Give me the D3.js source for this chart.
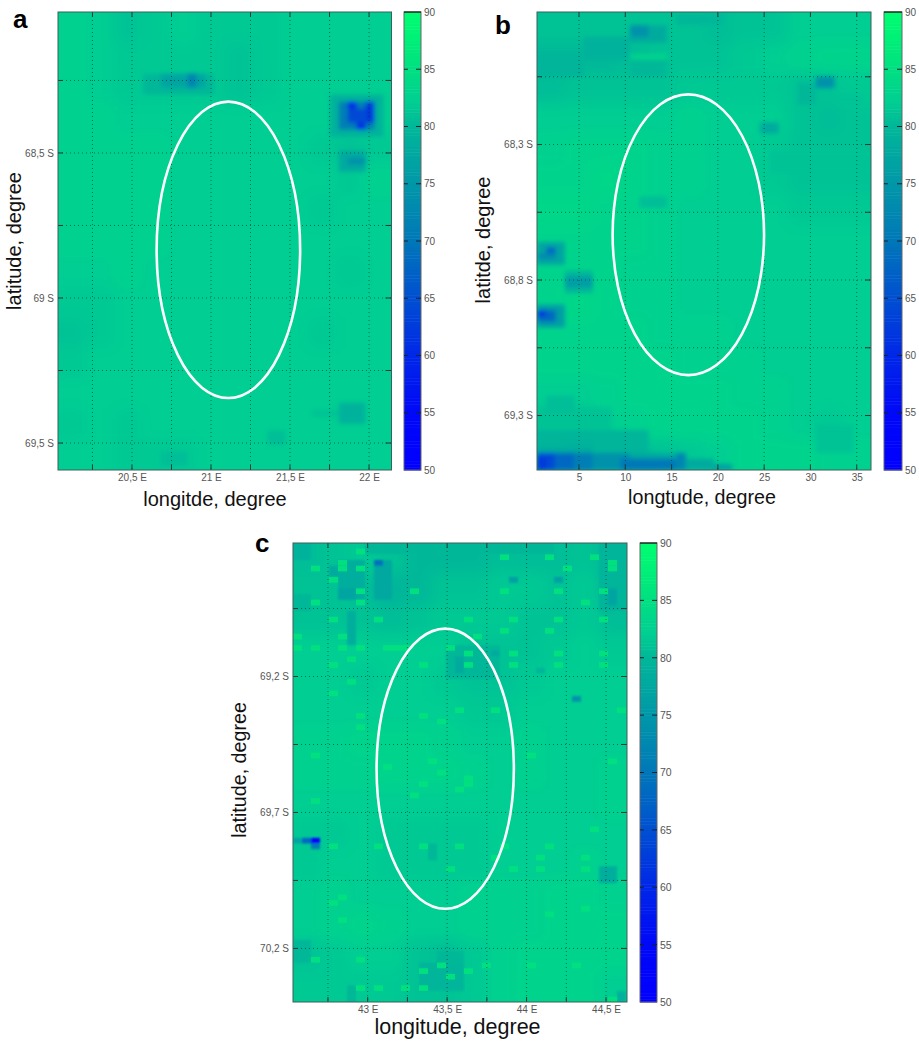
<!DOCTYPE html>
<html><head><meta charset="utf-8">
<style>html,body{margin:0;padding:0;background:#fff}svg{display:block}text{font-family:"Liberation Sans",Arial,sans-serif}</style>
<script src="https://cdn.jsdelivr.net/npm/d3@7"></script></head><body>
<svg id="c" width="919" height="1042"></svg>
<script>
// colour map
const legendValues=[50,55,60,65,70,75,80,82,85,90];
const legendColors=["#0000ff","#0008f8","#0028e8","#0050d0","#0078b8","#0098a8","#00b898","#00ce92","#00e080","#00ff70"];
const legendTicks=[50,55,60,65,70,75,80,85,90];

// panel a
const aLonTicks=[20.25,20.5,20.75,21,21.25,21.5,21.75,22];
const aLonLabels=[20.5,21,21.5,22];
const aLatTicks=[68.25,68.5,68.75,69,69.25,69.5];
const aLatLabels=[68.5,69,69.5];
const aEllipse=[21.11,68.834,0.454,0.511];
const aBase=[
[82.5,82,81,81.5,82,81.5,81.5,81.5,82,82,82,82],
[82.5,82,81.5,81.5,81.5,81.5,81,81.5,82,82,82,82],
[82.5,82,81.5,81.5,81.5,81.5,81,81.5,82,82,82,82],
[82.5,82.5,82,82,82,82,82,82,82,82,81.5,82],
[82.5,82.5,82.5,82.5,82,82,82,82,82,81.5,81,81.5],
[82.5,82.5,82.5,82.5,82,82,82,82,82,82,81.5,82.5],
[82.5,82.5,82.5,82.5,82,82,82,82,82,81.5,82,82],
[82.5,82.5,82.5,82.5,82,82,82,82,82,82,82,82],
[82,82,82.5,82,82,82,82,82,82,82,81.5,82],
[81.5,81.5,82,82,82,82,82,82,82,82,82,82],
[81,81.5,82,82,82,82,82,82,82,81.5,82,82],
[81.5,82,82,82,82,82,82,82,82,82,82,82],
[82,82,82,82,82,82,82,82,82,82,82,82],
[81.5,82,81.5,82,82,82,82,82,82,82,82,82],
[82,82,81.5,81.5,81.5,82,82,82,82,82,82,82]];
// [firstCol, endCol, firstRow, endRow, value]
const aCells=[
[31,37,12,18,79],[32,36,13,17,71],[33,34,13,14,60],[35,36,13,16,62],[33,35,14,16,64],[34,35,16,17,60],
[32,35,20,23,78],[33,35,21,22,74],
[10,18,9,12,80],[12,17,9,11,77],[15,16,9,11,72],
[32,35,56,59,79],[29,32,57,58,81],[24,26,60,62,80.5],[12,15,63,65,80.5]];

// panel b
const bLonTicks=[5,10,15,20,25,30,35];
const bLonLabels=[5,10,15,20,25,30,35];
const bLatTicks=[68.05,68.3,68.55,68.8,69.05,69.3];
const bLatLabels=[68.3,68.8,69.3];
const bEllipse=[16.81,68.633,8.18,0.518];
const bBase=[
[81,81,81,81,81,81,80.5,81,81,82,82,82],
[80,80,80,80.5,81,81,81,81.5,82,82.5,83,83],
[80.5,81,81,81,81,81.5,81.5,81.5,81.5,81,81,81.5],
[82,82,82,82,82,82.5,82,82,82,81,80.5,81],
[82.5,83,83,83,82.5,82.5,82,82,81.5,81,81,81],
[83,83,83.5,83,82.5,82.5,82,82,81.5,81,81,81],
[83.5,83.5,83,83,82.5,82,82,82,82,81.5,81.5,81.5],
[83,83,83,83,82.5,82,82,82,82,82,82,82],
[83,83,83,82.5,82.5,82,82,82,82,82,82,82],
[83,83.5,83,82.5,82.5,82,82,82,82,82,82,82],
[83,83,83,83,82.5,82.5,82.5,82,82,82,82,82],
[83,83,83,83,83,82.5,82.5,82.5,82,82,82,82],
[82,82,82.5,83,83,83,83,82.5,82.5,82,82,82],
[81,81,82,82.5,83,83,83,83,82.5,82,81.5,82],
[79,79,80,80.5,81,81.5,82,83,83,83,82.5,82.5]];
const bCells=[
[0,8,70,74,81],[0,12,74,78,79.5],
[0,6,77,78,78],[3,6,76,77,79],[9,15,78,79,77.5],
[0,2,78,81,64],[0,1,79,81,62],[2,4,78,81,68],[4,6,78,81,71],[6,10,78,81,74],[9,15,79,81,70],[15,16,78,81,72],[16,19,79,81,78],[19,21,80,81,76],
[0,3,52,56,76],[0,2,53,55,68],[0,1,53,54,62],
[3,6,46,50,80],[3,6,47,49,76],
[0,3,41,45,77],[0,2,43,44,73],[1,2,42,43,67],
[0,5,8,12,79.5],[5,10,5,9,79],[10,14,9,12,80],[10,14,8,9,83],[10,14,3,6,78],[10,12,3,5,74],[15,20,1,3,80],[32,34,8,9,83],
[28,30,13,17,80],[32,35,15,17,81],[30,32,12,14,74],[24,26,20,22,78],[11,14,33,35,80.5],[25,36,25,29,81],[30,34,73,78,81],[1,4,68,71,80.5]];

// panel c
const cLonTicks=[42.75,43,43.25,43.5,43.75,44,44.25,44.5];
const cLonLabels=[43,43.5,44,44.5];
const cLatTicks=[68.95,69.2,69.45,69.7,69.95,70.2];
const cLatLabels=[69.2,69.7,70.2];
const cEllipse=[43.488,69.539,0.432,0.515];
const cBase=[
[80.5,81,81.5,81,80,80,80,80.5,80.5,80.5,81,80],
[81,81,80.5,79.5,80,81,81,81.5,81.5,81,81.5,80],
[81,81,81,80.5,81,81.5,81.5,81.5,81,81,81.5,80.5],
[82,82,82,82,82,82,81,81,81,81.5,82,81.5],
[82,82,81.5,82,82,81.5,81,81,81.5,82,82,82],
[82,82,82,82,82,82,81.5,81.5,82,82,82,82],
[82.5,82.5,83,83,83,82.5,82,82,82.5,82,82,82],
[82.5,82.5,82.5,83,83,83,82.5,82,82.5,82,82,82.5],
[82,82,82,82,82,82,82,82,82,82,82,82.5],
[81.5,81.5,82,81.5,81.5,81.5,81.5,82,82,82,82,82],
[81.5,82,82,81.5,81.5,81.5,81.5,82,82,82,82.5,82],
[82,82.5,82,82,82,82,82.5,82.5,82.5,83,83,82.5],
[82,82.5,83,82.5,82,82,82.5,82.5,82.5,83,83,83],
[81,81.5,82,82,81,80.5,81.5,82.5,83,83,83,83],
[81.5,81.5,81.5,81.5,81,81,81.5,82.5,83,83,83,82]];
const cCells=[
[0,2,0,3,79],[0,2,9,12,80],[8,29,0,2,80],[34,37,0,12,79.5],[35,36,8,11,77],
[4,5,4,6,78],[5,8,3,10,78.5],[5,7,8,10,77],[9,11,3,10,77.5],[9,10,3,4,69],
[24,25,6,7,76],[29,30,6,7,76],[6,7,12,18,78.5],[17,23,18,24,80],[18,19,20,23,78],[22,23,19,20,78],
[27,28,22,23,79.5],[31,32,27,28,74],[34,36,57,60,78.5],[15,16,53,56,80],
[0,2,70,74,80],[16,19,72,74,80],[14,19,74,79,79.5],[6,7,78,81,80],[36,37,79,81,79],
[0,1,52,53,77],[1,2,52,53,68],[2,3,52,53,50],[2,3,53,54,71]];
const cBright=[[7,1],[5,3],[2,4],[5,4],[7,4],[4,6],[7,8],[7,10],[2,10],[0,16],[5,16],[0,18],[2,18],[5,18],[7,18],[4,13],[6,20],[9,13],[4,21],[6,24],[4,26],[7,30],[7,32],[2,37],[16,40],[15,38],[10,39],[14,21],[17,18],[19,13],[19,19],[19,21],[24,13],[24,19],[24,21],[23,2],[23,8],[23,15],[28,2],[29,8],[29,13],[29,19],[29,21],[28,15],[33,2],[30,4],[35,3],[35,4],[34,8],[32,10],[34,13],[34,19],[34,21],[36,29],[35,38],[22,29],[18,29],[16,31],[13,8],[20,16],[11,18],[10,18],[12,18],[14,30],[19,41],[26,37],[2,45],[14,42],[13,44],[18,43],[19,42],[4,53],[9,53],[14,53],[18,53],[23,53],[28,53],[27,55],[27,57],[32,55],[32,57],[33,50],[22,55],[17,57],[5,62],[5,66],[4,63],[2,73],[7,73],[14,75],[19,75],[16,74],[21,74],[26,74],[7,78],[12,78],[14,78],[9,78],[17,76],[35,80],[31,74],[28,65],[32,64],[24,57]];

const svg=d3.select("#c");
const color=d3.scaleLinear().domain(legendValues).range(legendColors);
const defs=svg.append("defs");
[["blurBase",7],["blurCell",1.9],["blurCellC",1.2],["blurBright",0.7]].forEach(([id,s])=>{
  defs.append("filter").attr("id",id).attr("filterUnits","userSpaceOnUse").attr("x",0).attr("y",0).attr("width",919).attr("height",1042)
    .append("feGaussianBlur").attr("stdDeviation",s);
});
const commaFmt=v=>String(v).replace(".",",");

function panel(o){
  const {id,box,lonDomain,latDomain}=o;
  const [x0,x1,y0,y1]=box;
  const x=d3.scaleLinear().domain(lonDomain).range([x0,x1]);
  const y=d3.scaleLinear().domain(latDomain).range([y0,y1]);
  defs.append("clipPath").attr("id","clip"+id).append("rect").attr("x",x0).attr("y",y0).attr("width",x1-x0).attr("height",y1-y0);
  const plot=svg.append("g").attr("clip-path","url(#clip"+id+")");
  // coarse background
  const nr=o.base.length,nc=o.base[0].length;
  const bx=d3.scaleLinear().domain([0,nc]).range([x0,x1]);
  const by=d3.scaleLinear().domain([0,nr]).range([y0,y1]);
  const gb=plot.append("g").attr("filter","url(#blurBase)");
  gb.append("rect").attr("x",x0-30).attr("y",y0-30).attr("width",x1-x0+60).attr("height",y1-y0+60).attr("fill",color(82));
  o.base.forEach((row,r)=>{
    gb.selectAll(null).data(row).enter().append("rect")
      .attr("x",(d,c)=>bx(c)-(c==0?30:0)).attr("y",by(r)-(r==0?30:0))
      .attr("width",(d,c)=>bx(1)-bx(0)+(c==0||c==nc-1?30:0)+0.5)
      .attr("height",by(1)-by(0)+(r==0||r==nr-1?30:0)+0.5)
      .attr("fill",d=>color(d));
  });
  // individual cells
  const cx=d3.scaleLinear().domain([0,1]).range([o.cellOrigin[0],o.cellOrigin[0]+o.cellSize[0]]);
  const cy=d3.scaleLinear().domain([0,1]).range([o.cellOrigin[1],o.cellOrigin[1]+o.cellSize[1]]);
  plot.append("g").attr("filter","url(#"+o.cellBlur+")").selectAll("rect").data(o.cells).enter().append("rect")
    .attr("x",d=>cx(d[0])).attr("y",d=>cy(d[2]))
    .attr("width",d=>cx(d[1])-cx(d[0])).attr("height",d=>cy(d[3])-cy(d[2]))
    .attr("fill",d=>color(d[4]));
  if(o.bright) plot.append("g").attr("filter","url(#blurBright)").selectAll("rect").data(o.bright).enter().append("rect")
    .attr("x",d=>cx(d[0])).attr("y",d=>cy(d[1]))
    .attr("width",cx(1)-cx(0)).attr("height",cy(1)-cy(0))
    .attr("fill",color(85));
  // dotted grid
  const grid=plot.append("g").attr("stroke","#0a2a24").attr("stroke-width",1).attr("stroke-dasharray","1,3").attr("stroke-opacity",0.6);
  o.lonTicks.forEach(v=>grid.append("line").attr("x1",x(v)).attr("x2",x(v)).attr("y1",y0).attr("y2",y1));
  o.latTicks.forEach(v=>grid.append("line").attr("x1",x0).attr("x2",x1).attr("y1",y(v)).attr("y2",y(v)));
  // ellipse
  const [ex,ey,erx,ery]=o.ellipse;
  svg.append("ellipse").attr("cx",x(ex)).attr("cy",y(ey)).attr("rx",x(ex+erx)-x(ex)).attr("ry",y(ey+ery)-y(ey))
    .attr("fill","none").attr("stroke","#fff").attr("stroke-width",2.6);
  // axes
  const stub=svg.append("g").attr("stroke","#1c3a36").attr("stroke-width",1);
  o.lonTicks.forEach(v=>{stub.append("line").attr("x1",x(v)).attr("x2",x(v)).attr("y1",y0).attr("y2",y0+5);
    stub.append("line").attr("x1",x(v)).attr("x2",x(v)).attr("y1",y1-5).attr("y2",y1);});
  o.latTicks.forEach(v=>{stub.append("line").attr("x1",x0).attr("x2",x0+5).attr("y1",y(v)).attr("y2",y(v));
    stub.append("line").attr("x1",x1-6).attr("x2",x1).attr("y1",y(v)).attr("y2",y(v));});
  svg.append("rect").attr("x",x0).attr("y",y0).attr("width",x1-x0).attr("height",y1-y0).attr("fill","none").attr("stroke","#3f5f5a").attr("stroke-width",1);
  const xAxis=svg.append("g").attr("transform",`translate(0,${y1})`)
    .call(d3.axisBottom(x).tickValues(o.lonLabels).tickSize(0).tickPadding(4).tickFormat(v=>commaFmt(v)+o.lonSuffix));
  xAxis.select(".domain").remove();
  xAxis.selectAll("text").attr("font-size",10).attr("fill","#555").attr("font-family",'"Liberation Sans",Arial,sans-serif');
  const yAxis=svg.append("g").attr("transform",`translate(${x0},0)`)
    .call(d3.axisLeft(y).tickValues(o.latLabels).tickSize(0).tickPadding(4).tickFormat(v=>commaFmt(v)+" S"));
  yAxis.select(".domain").remove();
  yAxis.selectAll("text").attr("font-size",10).attr("fill","#555").attr("font-family",'"Liberation Sans",Arial,sans-serif');
  // titles
  svg.append("text").attr("x",o.xTitle[1]).attr("y",o.xTitle[2]).attr("text-anchor","middle").attr("font-size",o.xTitle[3]).attr("fill","#111").text(o.xTitle[0]);
  svg.append("text").attr("transform",`translate(${o.yTitle[1]},${o.yTitle[2]}) rotate(-90)`).attr("text-anchor","middle").attr("font-size",o.yTitle[3]).attr("fill","#111").text(o.yTitle[0]);
  svg.append("text").attr("x",o.letter[1]).attr("y",o.letter[2]).attr("font-size",26).attr("font-weight","bold").attr("fill","#000").text(o.letter[0]);
  // colour bar
  const [bx0,bx1]=o.bar;
  const ly=d3.scaleLinear().domain([50,90]).range([y1,y0]);
  const steps=d3.range(50,90,0.25);
  svg.append("g").selectAll("rect").data(steps).enter().append("rect")
    .attr("x",bx0).attr("width",bx1-bx0).attr("y",d=>ly(d+0.25)).attr("height",d=>ly(d)-ly(d+0.25)+0.5).attr("fill",d=>color(d));
  svg.append("rect").attr("x",bx0).attr("y",y0).attr("width",bx1-bx0).attr("height",y1-y0).attr("fill","none").attr("stroke","#666").attr("stroke-width",1);
  svg.append("line").attr("x1",bx0).attr("x2",bx1).attr("y1",y0).attr("y2",y0).attr("stroke","#000");
  const lt=svg.append("g").attr("stroke","#123").attr("stroke-width",1);
  legendTicks.filter(v=>v>50&&v<90).forEach(v=>{
    lt.append("line").attr("x1",bx0).attr("x2",bx0+4).attr("y1",ly(v)).attr("y2",ly(v));
    lt.append("line").attr("x1",bx1-5).attr("x2",bx1).attr("y1",ly(v)).attr("y2",ly(v));
  });
  const la=svg.append("g").attr("transform",`translate(${bx1},0)`)
    .call(d3.axisRight(ly).tickValues(legendTicks).tickSize(0).tickPadding(3));
  la.select(".domain").remove();
  la.selectAll("text").attr("font-size",o.barFont).attr("fill","#555").attr("font-family",'"Liberation Sans",Arial,sans-serif');
}

panel({id:"a",box:[58,391.5,12,470],lonDomain:[20.032,22.142],latDomain:[68.014,69.593],
  base:aBase,cells:aCells,cellOrigin:[54,10.7],cellSize:[8.9,7],cellBlur:"blurCell",
  lonTicks:aLonTicks,latTicks:aLatTicks,lonLabels:aLonLabels,latLabels:aLatLabels,lonSuffix:" E",
  ellipse:aEllipse,bar:[404,421],barFont:10,
  xTitle:["longitde, degree",215,506,20],yTitle:["latitude, degree",20.5,241,20],letter:["a",13,28]});
panel({id:"b",box:[537,871,12,470],lonDomain:[0.463,36.54],latDomain:[67.811,69.501],
  base:bBase,cells:bCells,cellOrigin:[537,8.3],cellSize:[9.3,5.7],cellBlur:"blurCell",
  lonTicks:bLonTicks,latTicks:bLatTicks,lonLabels:bLonLabels,latLabels:bLatLabels,lonSuffix:"",
  ellipse:bEllipse,bar:[884,902],barFont:10,
  xTitle:["longtude, degree",702,504,19.7],yTitle:["latitde, degree",490,240,20],letter:["b",495,34]});
panel({id:"c",box:[293,627,543,1002],lonDomain:[42.53,44.632],latDomain:[68.709,70.397],
  base:cBase,cells:cCells,bright:cBright,cellOrigin:[293,543],cellSize:[9,5.67],cellBlur:"blurCellC",
  lonTicks:cLonTicks,latTicks:cLatTicks,lonLabels:cLonLabels,latLabels:cLatLabels,lonSuffix:" E",
  ellipse:cEllipse,bar:[640,657],barFont:10.5,
  xTitle:["longitude, degree",457.5,1034,21.5],yTitle:["latitude, degree",246,770,19.7],letter:["c",255,552]});
</script></body></html>
